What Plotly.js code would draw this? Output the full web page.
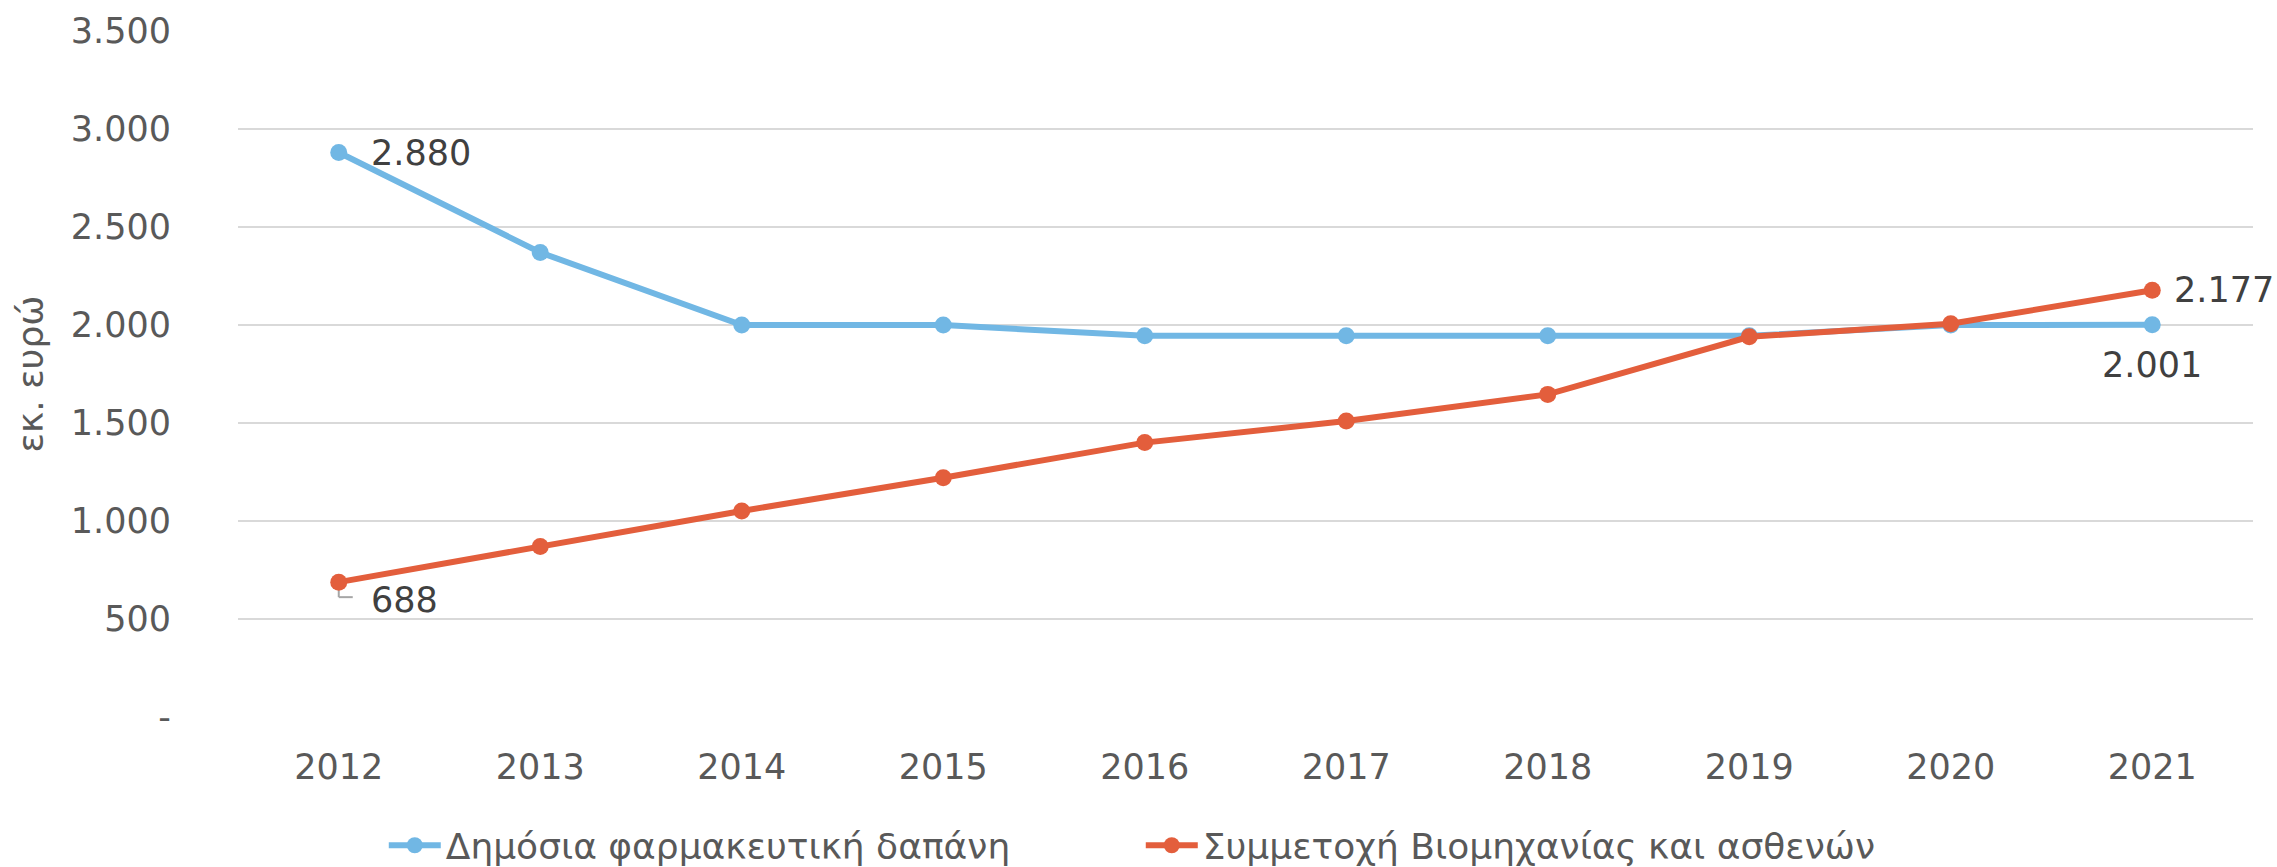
<!DOCTYPE html>
<html>
<head>
<meta charset="utf-8">
<script src="https://cdn.plot.ly/plotly-3.0.1.min.js"></script>
<style>html,body{margin:0;padding:0;background:#fff;}#chart{width:2277px;height:867px;}</style>
</head>
<body>
<div id="chart"></div>
<script>
const years = ['2012','2013','2014','2015','2016','2017','2018','2019','2020','2021'];
const publicSpend = [2880, 2370, 2000, 2000, 1945, 1945, 1945, 1945, 2000, 2001];
const industryPatients = [688, 870, 1051, 1221, 1400, 1510, 1646, 1940, 2006, 2177];
const seriesNames = ['Δημόσια φαρμακευτική δαπάνη', 'Συμμετοχή Βιομηχανίας και ασθενών'];
const yTickVals = [0, 500, 1000, 1500, 2000, 2500, 3000, 3500];
const yTickText = ['-', '500', '1.000', '1.500', '2.000', '2.500', '3.000', '3.500'];
const yTitle = 'εκ. ευρώ';

const fmt = v => v >= 1000 ? Math.floor(v/1000) + '.' + String(v % 1000).padStart(3, '0') : String(v);

const FONT = 'DejaVu Sans, Liberation Sans, sans-serif';
const blue = '#71B7E4';
const orange = '#E35E3C';

const traces = [
  {x: years, y: publicSpend, name: seriesNames[0], type: 'scatter', mode: 'lines+markers',
   line: {color: blue, width: 6}, marker: {color: blue, size: 17}},
  {x: years, y: industryPatients, name: seriesNames[1], type: 'scatter', mode: 'lines+markers',
   line: {color: orange, width: 6}, marker: {color: orange, size: 17}}
];

const lbl = {showarrow: false, font: {family: FONT, size: 35, color: '#404040'}, xref: 'x', yref: 'y'};
const annotations = [
  Object.assign({}, lbl, {x: 0, y: publicSpend[0], text: fmt(publicSpend[0]), xanchor: 'left', yanchor: 'middle', xshift: 30}),
  Object.assign({}, lbl, {x: 9, y: publicSpend[9], text: fmt(publicSpend[9]), xanchor: 'center', yanchor: 'middle', yshift: -40}),
  Object.assign({}, lbl, {x: 0, y: industryPatients[0], text: fmt(industryPatients[0]), xanchor: 'left', yanchor: 'middle', xshift: 30, yshift: -18}),
  Object.assign({}, lbl, {x: 9, y: industryPatients[9], text: fmt(industryPatients[9]), xanchor: 'left', yanchor: 'middle', xshift: 20})
];

const shapes = [
  {type: 'line', xref: 'x', yref: 'y', xsizemode: 'pixel', ysizemode: 'pixel',
   xanchor: 0, yanchor: industryPatients[0], x0: 0, x1: 0, y0: -4, y1: -15,
   line: {color: '#A6A6A6', width: 2}, layer: 'below'},
  {type: 'line', xref: 'x', yref: 'y', xsizemode: 'pixel', ysizemode: 'pixel',
   xanchor: 0, yanchor: industryPatients[0], x0: 0, x1: 14, y0: -15, y1: -15,
   line: {color: '#A6A6A6', width: 2}, layer: 'below'}
];

const layout = {
  width: 2277, height: 867,
  margin: {l: 238, r: 24, t: 31, b: 150},
  paper_bgcolor: '#ffffff', plot_bgcolor: '#ffffff',
  font: {family: FONT, size: 35, color: '#595959'},
  showlegend: true,
  legend: {orientation: 'h', xref: 'container', x: 0.501, xanchor: 'center', yref: 'container', y: 0.025, yanchor: 'middle',
           font: {family: FONT, size: 36, color: '#595959'}, itemwidth: 52,
           entrywidth: 690, entrywidthmode: 'pixels'},
  xaxis: {type: 'category', range: [-0.5, 9.5], showgrid: false, zeroline: false, showline: false,
          ticks: '', tickfont: {family: FONT, size: 35, color: '#595959'}, ticklabelstandoff: 26},
  yaxis: {range: [0, 3500], tickvals: yTickVals, ticktext: yTickText, showgrid: true, gridcolor: '#D9D9D9', gridwidth: 2,
          zeroline: false, showline: false, ticks: '', ticklabelstandoff: 66,
          tickfont: {family: FONT, size: 35, color: '#595959'},
          title: {text: yTitle, font: {family: FONT, size: 36, color: '#595959'}, standoff: 16}},
  annotations: annotations,
  shapes: shapes
};

Plotly.newPlot('chart', traces, layout, {displayModeBar: false, staticPlot: true});
</script>
</body>
</html>
